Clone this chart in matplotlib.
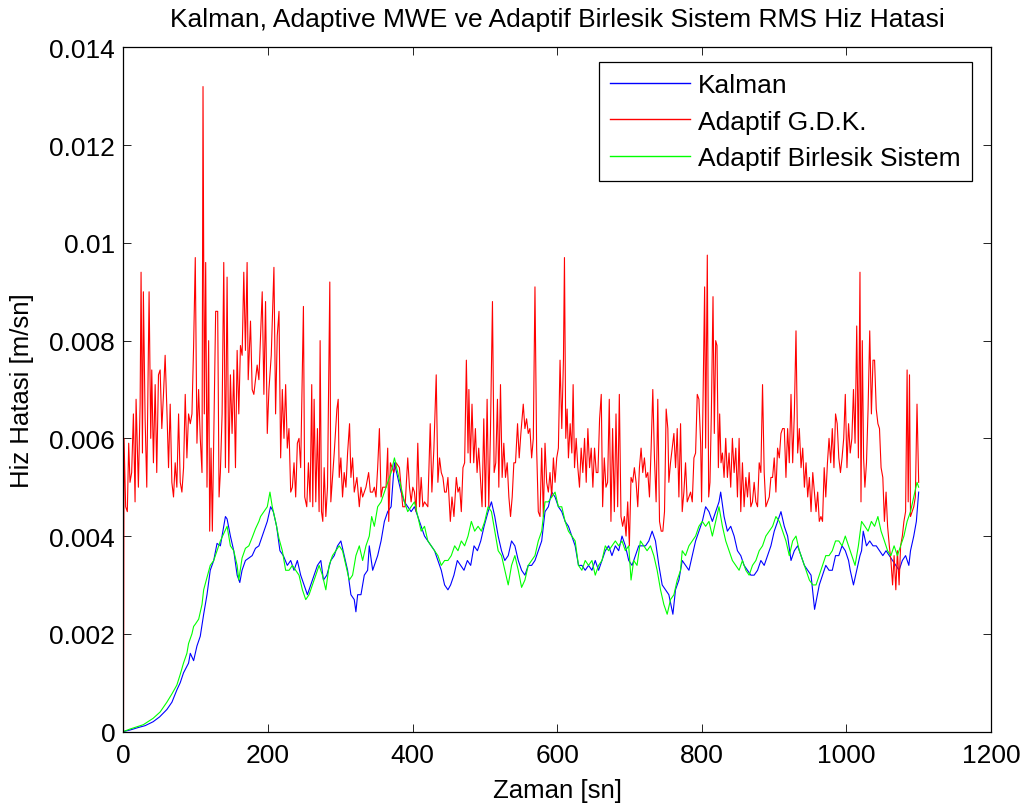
import matplotlib
matplotlib.use("Agg")
import matplotlib.pyplot as plt
import numpy as np

plt.rcParams['font.family'] = ['Liberation Sans', 'DejaVu Sans']

# ---------------- data (values in units of 1e-3 m/sn) ----------------
UNIT = 1e-3

kalman_t = [0, 9, 20, 30, 41, 50, 60, 67, 73.8, 78.5, 83, 90, 92.4, 97, 101.6, 106.2, 110.9, 115.5,
            120, 124.8, 129.4, 134, 138.7, 141, 143.3, 147.9, 152.5, 157.2, 160.9, 164, 168.7, 173.4,
            178, 182.6, 187.3, 189.6, 194.2, 198.9, 203.5, 207.2, 211.8, 216.4, 221.1, 226.6, 231.3,
            235.9, 240.5, 245.1, 249.8, 254.4, 259, 263.7, 268.3, 273, 276.6, 281.3, 286.8, 291.5,
            296.1, 300.7, 305.3, 310, 314.6, 319.2, 321.5, 323.9, 328.5, 333.1, 337.7, 340, 344.7,
            347, 351.6, 356.3, 360.9, 365.5, 370.2, 374.7, 379.4, 384, 388.6, 393.2, 397.9, 402.5,
            407.1, 411.8, 416.4, 421, 425.7, 430.3, 434.9, 439.6, 444.2, 448.8, 452.5, 457.1, 461.8,
            466.4, 471, 475.7, 480.3, 484.9, 489.6, 494.2, 498.8, 504.4, 509, 513.6, 518.3, 522.9,
            527.5, 532.2, 536.8, 541.4, 546.1, 550.7, 555.3, 559.9, 564.6, 569.2, 573.8, 578.5,
            583.1, 587.7, 592.4, 597, 601.6, 606.3, 610.9, 615.5, 620.2, 624.8, 629.4, 634.1, 638.7,
            643.3, 648, 652.6, 657.2, 661.9, 666.5, 671.1, 675.7, 680.4, 685, 689.6, 694.3, 698.9,
            703.5, 708.2, 712.8, 717.4, 722.1, 726.7, 731.3, 735.9, 740.6, 745.2, 749.8, 754.4, 760,
            763.6, 768.3, 772.9, 777.5, 782.2, 786.8, 791.4, 796, 800.7, 805.3, 809.9, 814.6, 819.2,
            823.8, 826.1, 830.8, 835.4, 840, 844.7, 849.3, 853.9, 858.5, 863.2, 867.8, 872.4, 877.1,
            881.7, 886.3, 891, 895.6, 900.2, 904.8, 909.5, 914.1, 918.7, 923.4, 928, 932.6, 937.3,
            941.9, 946.5, 951.1, 956, 962.5, 967, 971.5, 976, 980.5, 985, 989.5, 994, 998.5, 1003,
            1005.3, 1009.8, 1014.3, 1018.8, 1021, 1023.3, 1027.8, 1032.3, 1036.8, 1041.3, 1045.8,
            1050.4, 1054.9, 1059.4, 1063.9, 1068.4, 1072.9, 1077.4, 1081.9, 1086.4, 1088.7, 1093.2,
            1096.8, 1100]
kalman_v = [0.0, 0.03, 0.08, 0.12, 0.2, 0.3, 0.45, 0.6, 0.85, 1.0, 1.2, 1.4, 1.6, 1.45, 1.75, 1.95, 2.4, 2.8,
            3.3, 3.5, 3.85, 3.8, 4.2, 4.4, 4.35, 4.0, 3.7, 3.2, 3.05, 3.3, 3.5, 3.55,
            3.6, 3.75, 3.8, 3.9, 4.1, 4.3, 4.6, 4.5, 4.2, 3.7, 3.6, 3.4, 3.5,
            3.3, 3.5, 3.2, 3.0, 2.8, 3.0, 3.2, 3.4, 3.5, 3.1, 3.2, 3.5, 3.6,
            3.8, 3.9, 3.6, 3.3, 2.8, 2.7, 2.45, 2.8, 2.8, 3.2, 3.3, 3.8, 3.3,
            3.4, 3.6, 3.9, 4.3, 4.5, 4.6, 5.5, 5.2, 4.9, 4.7, 4.6, 4.5, 4.6,
            4.4, 4.2, 4.0, 3.9, 3.8, 3.7, 3.5, 3.3, 3.0, 2.9, 3.0, 3.2, 3.5,
            3.4, 3.3, 3.5, 3.4, 3.8, 3.7, 3.9, 4.2, 4.5, 4.7, 4.4, 4.0, 3.7,
            3.5, 3.6, 3.9, 3.8, 3.5, 3.3, 3.2, 3.4, 3.4, 3.5, 3.7, 3.9,
            4.5, 4.6, 4.9, 4.8, 4.6, 4.5, 4.3, 4.2, 4.0, 3.8, 3.4, 3.4, 3.3,
            3.4, 3.3, 3.5, 3.3, 3.5, 3.7, 3.8, 3.6, 3.8, 3.7, 4.0, 3.8, 3.5,
            3.4, 3.6, 3.8, 3.8, 3.8, 3.9, 4.1, 3.9, 3.4, 3.0, 2.9, 2.8, 2.4,
            2.9, 3.1, 3.5, 3.4, 3.3, 3.6, 3.9, 4.1, 4.3, 4.6, 4.5, 4.3, 4.5,
            4.7, 4.9, 4.4, 4.1, 4.2, 4.0, 3.7, 3.6, 3.4, 3.3, 3.2, 3.2, 3.3,
            3.5, 3.4, 3.6, 3.8, 4.1, 4.3, 4.5, 4.2, 4.0, 3.5, 3.7, 3.8, 3.6,
            3.4, 3.3, 3.2, 2.5, 3.0, 3.2, 3.4, 3.3, 3.3, 3.6, 3.6, 3.8, 3.7, 3.5,
            3.3, 3.0, 3.3, 3.6, 3.7, 4.1, 3.8, 3.9, 3.8, 3.8, 3.7,
            3.6, 3.7, 3.6, 3.5, 3.4, 3.3, 3.5, 3.6, 3.4, 3.7, 4.0,
            4.3, 4.9]

gdk_t = [0, 0.7, 3, 5.3, 7.2, 9, 11.3, 13.7, 16, 17.4, 20.6, 23, 24.3, 26.2, 27.5, 29.9, 32.2, 35.4,
         37.7, 39.1, 41.4, 43.8, 46, 48.4, 50.7, 53, 55.3, 57.6, 60, 62.3, 64.6, 66.9, 69.2, 71.5,
         73.8, 76.2, 78.5, 80.8, 83.1, 85.4, 87.7, 90, 92.4, 94.7, 97, 99.3, 101.6, 103.9, 106.2,
         108.6, 110, 111.8, 113.7, 115.5, 117.8, 119.2, 121.1, 122.9, 124.8, 127.5, 130.3, 132.2,
         134, 136.4, 138.7, 141, 143.3, 145.6, 147.9, 150.2, 152.5, 154.9, 157.2, 159.5, 161.8,
         164.1, 166.4, 168.7, 171, 172.5, 175.7, 178, 180.3, 184.9, 187.3, 191.9, 194.2, 196.5,
         198.9, 201.2, 204.4, 208.1, 210.4, 212.7, 215.1, 217.4, 219.7, 222, 224.3, 226.6, 228.9,
         231.3, 233.6, 235.9, 238.2, 240.5, 242.8, 245.1, 248.9, 250.7, 253.5, 255.8, 258.1,
         260.4, 261.8, 263.7, 266, 268.3, 270.6, 272, 273.9, 275.7, 277.6, 279.9, 282.2, 285.4,
         286.8, 289.1, 291.5, 295.2, 297, 298.4, 300.7, 303, 305.3, 307.7, 310, 312.7, 314.6,
         316.9, 319.2, 322.9, 326.2, 328.5, 330.8, 333.1, 335.4, 339.1, 341.5, 344.7, 347, 349.3,
         351.6, 354, 356.3, 358.6, 363.2, 365.5, 366.9, 369.2, 373.9, 377.1, 381.7, 386.3, 389.5,
         393.2, 395.6, 397.9, 400.2, 402.5, 404.8, 407.1, 409.5, 411.8, 414.1, 416.4, 421, 424.3,
         426.6, 429.4, 432.6, 434.9, 437.2, 439.6, 441.9, 444.2, 446.5, 448.8, 452.1, 454.4,
         457.1, 460.4, 462.7, 465, 467.3, 469.6, 471.9, 474.3, 476.6, 477.8, 479.8, 482.1, 484.5,
         486.8, 489.1, 491.4, 493.7, 496, 498.4, 500.7, 503, 505.3, 507.6, 510.4, 512.7, 515,
         517.3, 519.2, 521.5, 523.8, 526.1, 528.4, 530.8, 533.1, 535.4, 537.7, 540, 542.3, 545.1,
         547.4, 549.7, 553, 555.3, 557.6, 559.9, 562.2, 564.6, 566.9, 569.2, 571.5, 573.8, 576.2,
         578.5, 580.8, 583.1, 585.4, 587.7, 590, 592.4, 594.7, 597, 599.3, 601.6, 603.9, 606.3,
         608.6, 610, 611.8, 613.7, 615.5, 617.9, 620.2, 622, 623.9, 626.2, 628.5, 630.8, 633.1,
         635.4, 637.8, 640.1, 642.4, 644.7, 647, 649.3, 651.6, 654, 656.3, 658.6, 660.9, 662.8,
         665.1, 667.4, 669.7, 672, 674.3, 676.6, 679, 681.3, 683.6, 685.9, 688.2, 690.5, 692.9,
         695.2, 697.5, 699.8, 702.1, 704.4, 706.7, 709.1, 711.4, 713.7, 716, 718.3, 720.6, 722.9,
         725.3, 727.6, 729.9, 732.2, 734.5, 736.8, 739.1, 741.5, 743.8, 746.1, 748.4, 750.7, 753,
         754.4, 756.7, 759.1, 761.4, 763.7, 766, 768.3, 770.6, 772.9, 775.2, 777.5, 779.8, 782.2,
         784.5, 786.8, 789.1, 791.4, 793.7, 796, 798.4, 799.7, 802, 803.9, 805.3, 807.6, 809.5,
         811.3, 813.2, 815.5, 817.3, 819.2, 821, 822.9, 824.7, 826.6, 828.5, 830.8, 833.1, 835.4,
         837.7, 840, 842.3, 844.7, 847, 849.3, 851.6, 853.9, 856.2, 858.5, 860.9, 863.2, 865.5,
         867.8, 870.1, 872.4, 874.8, 877.1, 879.4, 881.7, 884, 886.3, 888.6, 891, 893.3, 895.6,
         897.9, 900.2, 902.5, 904.8, 907.2, 909.5, 911.8, 914.1, 916.4, 918.7, 921, 923.4, 925.7,
         928, 930.3, 932.6, 934.9, 937.3, 939.6, 941.9, 944.2, 946.5, 948.8, 951.1, 953.5, 958,
         960.3, 962.5, 964.8, 967, 969.3, 971.5, 973.8, 976, 978.3, 980.5, 982.8, 985, 987.3,
         989.5, 991.8, 994, 996.3, 998.5, 1000.8, 1003, 1005.3, 1007.6, 1009.8, 1012, 1014.3,
         1016.6, 1018.8, 1020.2, 1022, 1023.8, 1025.6, 1027.8, 1030, 1032.3, 1034.6, 1036.8,
         1039, 1041.3, 1043.6, 1045.8, 1048, 1050.4, 1052.6, 1054.9, 1057, 1059.4, 1061.6,
         1063.9, 1066, 1068.4, 1070.6, 1072.9, 1075, 1077.4, 1079.6, 1081.9, 1084, 1085.5,
         1087.3, 1088.7, 1091, 1093.2, 1095.4, 1097.7, 1100]
gdk_v = [0.0, 6.0, 4.6, 4.5, 5.9, 5.1, 5.3, 6.5, 4.7, 6.8, 5.0, 6.7, 9.4, 5.7, 9.0, 6.4, 5.0, 9.0,
         6.0, 7.4, 5.5, 7.1, 5.3, 7.3, 7.4, 6.2, 6.9, 7.7, 6.6, 5.4, 6.7, 5.1, 4.8, 5.5,
         5.0, 6.5, 5.1, 4.9, 5.4, 6.9, 5.6, 6.5, 6.3, 6.5, 7.9, 9.7, 5.9, 7.0, 6.0,
         5.3, 13.2, 6.5, 9.6, 5.0, 8.0, 4.1, 5.8, 4.1, 6.0, 8.6, 8.6, 4.8,
         5.3, 6.5, 9.6, 5.4, 9.3, 5.3, 7.3, 6.1, 7.4, 5.4, 7.8, 6.5, 7.9,
         7.7, 9.4, 7.8, 9.6, 7.2, 8.4, 7.0, 6.9, 7.5, 7.2, 9.0, 6.9, 8.8,
         6.1, 7.0, 7.7, 9.5, 6.5, 8.1, 8.6, 5.6, 7.0, 6.0, 7.1, 5.8, 6.2,
         4.9, 5.0, 5.5, 4.8, 5.9, 6.0, 5.4, 8.7, 4.8, 4.6, 5.5, 4.7,
         7.1, 4.6, 6.8, 4.7, 6.2, 4.5, 8.0, 4.5, 4.3, 5.4, 4.4, 5.0, 9.2,
         4.7, 5.2, 5.7, 6.6, 6.8, 5.2, 5.6, 4.8, 5.3, 5.0, 5.7, 6.3, 5.2,
         5.6, 4.9, 5.2, 4.6, 5.0, 4.8, 4.9, 5.0, 5.3, 4.9, 4.9, 5.0, 4.8,
         5.4, 6.2, 4.8, 5.0, 5.0, 5.8, 4.3, 5.5, 5.3, 5.5, 5.4, 4.6, 4.6,
         5.6, 5.0, 4.7, 5.0, 4.9, 4.5, 5.9, 4.6, 5.2, 4.6, 4.7, 4.6, 6.3,
         4.9, 5.8, 7.3, 5.1, 5.6, 5.3, 5.2, 4.9, 4.9, 5.2, 4.3, 4.8,
         4.4, 5.2, 4.9, 5.0, 4.5, 5.4, 5.5, 7.6, 5.7, 7.0, 5.5, 6.7, 5.5,
         6.2, 5.3, 5.8, 5.2, 4.6, 6.4, 4.6, 6.8, 4.6, 6.1, 8.8, 5.3, 5.5,
         6.8, 5.0, 7.1, 5.2, 5.9, 5.2, 5.5, 4.8, 4.4, 4.8, 5.5, 5.5, 6.3,
         5.6, 6.1, 6.7, 6.2, 6.4, 6.1, 6.2, 5.6, 6.0, 9.1, 5.8, 4.5, 4.4,
         5.8, 4.4, 5.9, 5.1, 4.9, 5.3, 4.8, 5.6, 5.1, 5.6, 5.8, 7.6, 6.2,
         7.6, 9.7, 6.0, 6.6, 5.6, 6.3, 5.7, 7.1, 5.4, 6.0, 5.4, 5.0, 5.8,
         5.3, 6.0, 5.1, 6.2, 5.4, 5.8, 5.0, 5.8, 5.3, 5.3, 6.4, 6.9, 4.6,
         5.6, 5.0, 5.1, 6.8, 4.3, 6.2, 4.5, 6.5, 4.6, 6.9, 4.4, 4.2, 4.4,
         4.0, 4.7, 3.8, 5.2, 5.1, 5.4, 5.1, 4.6, 5.4, 5.8, 5.3, 5.6, 5.2,
         5.3, 4.8, 5.8, 7.0, 5.6, 4.7, 6.8, 4.3, 4.1, 4.1, 4.5, 6.6, 6.2,
         5.1, 5.5, 5.8, 6.1, 5.4, 6.2, 4.8, 6.3, 4.5, 4.9, 5.5, 4.7, 4.8,
         4.9, 4.7, 5.6, 5.7, 6.9, 6.8, 5.9, 4.7, 7.2, 9.1, 5.8, 9.75, 4.8,
         5.1, 6.5, 8.9, 6.1, 8.0, 7.9, 5.4, 6.5, 5.5, 5.7, 5.2, 6.0, 5.2,
         5.7, 5.0, 6.0, 5.3, 5.8, 4.8, 6.0, 4.5, 5.5, 4.6, 5.2, 4.8, 5.3,
         4.6, 4.7, 5.1, 4.7, 4.6, 5.5, 5.3, 7.1, 5.3, 4.6, 4.7, 4.8, 5.2,
         5.2, 5.6, 4.9, 5.8, 5.6, 6.1, 6.2, 6.2, 5.2, 6.2, 5.5, 6.9, 5.5,
         6.5, 8.2, 5.7, 6.2, 5.4, 5.8, 5.0, 5.5, 4.8, 5.2, 4.5, 5.3, 4.5,
         4.9, 4.3, 4.4, 4.3, 5.4, 4.8, 5.5, 6.0, 5.5, 6.2, 5.4, 6.5, 6.3,
         5.6, 5.3, 5.6, 6.0, 6.9, 5.4, 6.3, 5.7, 6.0, 7.0, 5.9, 8.3,
         5.6, 9.4, 4.7, 8.0, 5.6, 5.0, 5.5, 6.6, 8.2, 6.5, 7.6,
         7.6, 6.6, 6.3, 6.2, 5.4, 5.2, 4.3, 4.9, 4.2, 3.8, 3.5,
         3.0, 3.6, 2.9, 3.7, 3.0, 3.8, 4.0, 4.3, 4.5, 7.4, 4.7,
         7.3, 4.4, 4.5, 4.6, 4.8, 6.7, 5.1]

birlesik_t = [0, 9, 27.5, 41, 50.7, 60, 67, 73.8, 78.5, 83, 87.7, 90, 94.7, 97, 99.5, 104, 108.6,
              110.9, 115.5, 120, 124.8, 129.4, 134, 138.7, 143.3, 147.9, 152.5, 157.2, 159.5, 164,
              168.7, 173.4, 178, 182.6, 187.3, 189.6, 194.2, 198.9, 202.6, 205.8, 210.4, 215.1,
              219.7, 224.3, 229, 233.6, 238.2, 242.8, 247.5, 252.1, 256.7, 261.4, 266, 270.6,
              275.2, 279.9, 284.5, 289.1, 293.8, 298.4, 303, 307.7, 312.3, 316.9, 321.5, 326.2,
              330.8, 335.4, 340, 343.3, 347, 351.6, 356.3, 360.9, 365.5, 370.2, 374.8, 379.4, 384,
              388.6, 393.2, 397.9, 402.5, 407.1, 411.8, 416.4, 421, 425.7, 430.3, 434.9, 439.6,
              444.2, 448.8, 453.4, 458.1, 462.7, 467.3, 471.9, 476.6, 481.2, 485.8, 490.5, 495.1,
              499.7, 504.4, 509, 513.6, 518.3, 522.9, 527.5, 532.2, 536.8, 541.4, 546.1, 550.7,
              555.3, 559.9, 564.6, 569.2, 573.8, 578.5, 583.1, 587.7, 592.4, 597, 601.6, 606.3,
              610.9, 615.5, 620.2, 624.8, 629.4, 634.1, 638.7, 643.3, 648, 652.6, 657.2, 661.9,
              666.5, 671.1, 675.7, 680.4, 685, 689.6, 694.3, 698.9, 702.1, 705.8, 710.4, 715.1,
              719.7, 724.3, 729, 733.6, 738.2, 742.9, 747.5, 752.1, 756.7, 761.4, 766, 770.6, 772.9,
              777.5, 782.2, 786.8, 791.4, 796, 800.7, 805.3, 809.9, 814.6, 819.2, 823.8, 828.5,
              833.1, 837.7, 842.3, 847, 851.6, 856.2, 860.9, 865.5, 870.1, 874.8, 879.4, 884,
              888.6, 893.3, 897.9, 902.5, 907.2, 911.8, 916.4, 921, 925.7, 930.3, 934.9, 939.6,
              944.2, 948.8, 953.5, 958, 962.5, 967, 971.5, 976, 980.5, 985, 989.5, 994, 998.5,
              1003, 1007.6, 1012, 1016.6, 1021, 1025.6, 1030, 1034.6, 1039, 1043.6, 1048, 1052.6,
              1057, 1061.6, 1066, 1070.6, 1075, 1079.6, 1084, 1088.7, 1093.2, 1097.7, 1100]
birlesik_v = [0.0, 0.05, 0.14, 0.27, 0.4, 0.6, 0.77, 0.95, 1.17, 1.4, 1.6, 1.8, 2.0, 2.15, 2.2, 2.3, 2.6,
              2.9, 3.15, 3.4, 3.5, 3.7, 3.9, 4.05, 4.2, 3.8, 3.7, 3.4, 3.1, 3.55,
              3.75, 3.8, 3.97, 4.15, 4.3, 4.4, 4.5, 4.6, 4.9, 4.6, 4.3, 3.95,
              3.7, 3.3, 3.3, 3.4, 3.3, 3.2, 2.9, 2.7, 2.8, 3.0, 3.2, 3.4,
              3.2, 2.9, 3.4, 3.6, 3.7, 3.8, 3.7, 3.4, 3.1, 3.2, 3.6, 3.8,
              3.5, 3.8, 4.0, 4.4, 4.2, 4.6, 4.7, 4.9, 5.1, 5.3, 5.6, 5.3, 5.0,
              4.7, 4.5, 4.6, 4.7, 4.4, 4.1, 4.2, 3.9, 3.8, 3.7, 3.6, 3.4,
              3.5, 3.5, 3.6, 3.8, 3.7, 3.9, 3.8, 4.0, 4.3, 4.1, 4.2, 4.1,
              4.3, 4.6, 4.5, 4.1, 3.7, 3.6, 3.3, 3.0, 3.4, 3.6, 3.3, 2.95,
              3.1, 3.4, 3.5, 3.6, 3.9, 4.1, 4.7, 4.7, 4.8, 4.9, 4.6, 4.6,
              4.3, 4.1, 4.0, 3.9, 3.4, 3.3, 3.5, 3.4, 3.5, 3.2, 3.4, 3.5,
              3.8, 3.7, 3.8, 3.9, 3.8, 3.9, 3.7, 3.8, 3.1, 3.5, 3.4, 3.9,
              3.8, 3.7, 3.8, 3.6, 3.3, 2.9, 2.6, 2.4, 2.7, 2.8, 3.1, 3.3, 3.7,
              3.6, 3.8, 3.9, 4.0, 4.2, 4.3, 4.2, 4.3, 4.0, 4.3, 4.6, 4.2,
              3.9, 3.7, 3.5, 3.4, 3.3, 3.5, 3.3, 3.2, 3.4, 3.5, 3.7, 3.8,
              4.0, 4.1, 4.2, 4.4, 4.3, 4.1, 3.9, 3.6, 3.9, 4.0, 3.7, 3.5,
              3.3, 3.1, 3.0, 3.0, 3.2, 3.4, 3.6, 3.6, 3.7, 3.9, 3.9, 3.8, 4.0,
              3.8, 3.6, 3.4, 3.8, 4.3, 4.2, 4.1, 4.3, 4.2, 4.4, 4.1, 3.9,
              3.7, 3.6, 3.8, 3.6, 3.8, 4.0, 4.3, 4.5, 4.8, 5.1, 5.0]

series_labels = ['Kalman', 'Adaptif G.D.K.', 'Adaptif Birlesik Sistem']
x_ticks = [0, 200, 400, 600, 800, 1000, 1200]
y_ticks = [0, 0.002, 0.004, 0.006, 0.008, 0.01, 0.012, 0.014]
y_tick_labels = ['0', '0.002', '0.004', '0.006', '0.008', '0.01', '0.012', '0.014']

# ---------------- figure ----------------
fig = plt.figure(figsize=(10.30, 8.12), dpi=100)
ax = fig.add_axes([0.1199, 0.0979, 0.8422, 0.8424])

lw = 0.8
ax.plot(kalman_t, np.array(kalman_v) * UNIT, color=(0, 0, 1), lw=lw, label=series_labels[0])
ax.plot(gdk_t, np.array(gdk_v) * UNIT, color=(1, 0, 0), lw=lw, label=series_labels[1])
ax.plot(birlesik_t, np.array(birlesik_v) * UNIT, color=(0, 1, 0), lw=lw, label=series_labels[2])

ax.set_xlim(0, 1200)
ax.set_ylim(0, 0.014)
ax.set_xticks(x_ticks)
ax.set_xticklabels([str(v) for v in x_ticks])
ax.set_yticks(y_ticks)
ax.set_yticklabels(y_tick_labels)

fs = 19
ax.tick_params(direction='in', length=5.8, width=0.6, top=True, right=True,
               labelsize=fs, colors='black')
ax.tick_params(axis='y', pad=6)
ax.tick_params(axis='x', pad=8.5)
for sp in ax.spines.values():
    sp.set_linewidth(0.9)
    sp.set_color('black')

ax.set_title('Kalman, Adaptive MWE ve Adaptif Birlesik Sistem RMS Hiz Hatasi',
             fontsize=fs, pad=15.5)
ax.set_xlabel('Zaman [sn]', fontsize=18.5, labelpad=8)
ax.set_ylabel('Hiz Hatasi [m/sn]', fontsize=18.5, labelpad=11)

leg = ax.legend(loc='upper right', bbox_to_anchor=(0.9778, 0.979), fontsize=fs,
                fancybox=False, framealpha=1, edgecolor='black', handlelength=3.03,
                handletextpad=0.3, labelspacing=0.48, borderpad=0.42, borderaxespad=0)
leg.get_frame().set_linewidth(0.9)
for line in leg.get_lines():
    line.set_linewidth(1.0)

fig.savefig('out.png', dpi=100)
